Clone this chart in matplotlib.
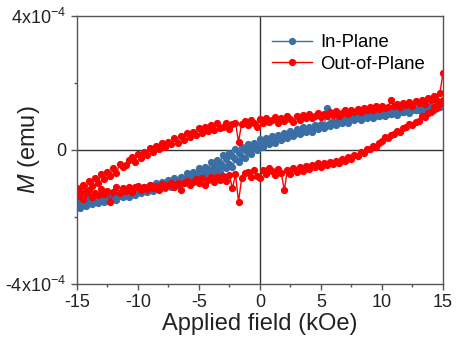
import numpy as np
import matplotlib
matplotlib.use("Agg")
import matplotlib.pyplot as plt
from matplotlib.ticker import MultipleLocator, FixedLocator

plt.rcParams['font.family'] = 'Liberation Sans'
plt.rcParams['mathtext.fontset'] = 'custom'
plt.rcParams['mathtext.rm'] = 'Liberation Sans'
plt.rcParams['mathtext.it'] = 'Liberation Sans:italic'
plt.rcParams['axes.unicode_minus'] = False

# field sweep in kOe, 0.25 kOe steps
field = np.arange(-15, 15.001, 0.25)

# magnetization in units of 1e-4 emu, listed in order of increasing field
# in-plane, branch measured on the way down (15 -> -15)
inplane_down = [
    -1.5, -1.62, -1.45, -1.55,
    -1.42, -1.52, -1.4, -1.48,
    -1.38, -1.48, -1.35, -1.42,
    -1.3, -1.4, -1.28, -1.35,
    -1.25, -1.32, -1.18, -1.28,
    -1.15, -1.25, -1.1, -1.2,
    -1.05, -1.15, -1.0, -1.1,
    -0.95, -1.05, -0.9, -0.98,
    -0.85, -0.95, -0.8, -0.88,
    -0.7, -0.82, -0.65, -0.72,
    -0.55, -0.68, -0.5, -0.58,
    -0.35, -0.48, -0.3, -0.38,
    -0.15, -0.28, -0.1, -0.18,
    0.02, -0.08, 0.08, 0.0,
    0.18, 0.08, 0.22, 0.15,
    0.32, 0.22, 0.35, 0.28,
    0.42, 0.32, 0.45, 0.38,
    0.52, 0.42, 0.58, 0.48,
    0.62, 0.52, 0.68, 0.58,
    0.7, 0.6, 0.75, 0.65,
    0.78, 0.7, 1.25, 0.82,
    0.88, 0.78, 0.92, 0.85,
    0.95, 0.88, 1.0, 0.92,
    1.02, 0.95, 1.05, 0.98,
    1.08, 1.0, 1.1, 1.02,
    1.12, 1.05, 1.15, 1.08,
    1.18, 1.1, 1.2, 1.12,
    1.22, 1.15, 1.25, 1.18,
    1.28, 1.2, 1.3, 1.22,
    1.32, 1.25, 1.45, 1.3,
    1.4,
]
# in-plane, branch measured on the way up (-15 -> 15)
inplane_up = [
    -1.65, -1.72, -1.58, -1.68,
    -1.55, -1.62, -1.5, -1.58,
    -1.48, -1.55, -1.45, -1.5,
    -1.4, -1.48, -1.38, -1.42,
    -1.32, -1.4, -1.3, -1.35,
    -1.22, -1.3, -1.2, -1.25,
    -1.15, -1.22, -1.12, -1.18,
    -1.08, -1.15, -1.05, -1.1,
    -0.98, -1.05, -0.95, -1.0,
    -0.88, -0.95, -0.85, -0.9,
    -0.78, -0.85, -0.72, -0.8,
    -0.62, -0.7, -0.58, -0.65,
    -0.48, -0.55, -0.42, -0.5,
    -0.28, -0.35, -0.2, -0.25,
    -0.05, -0.12, 0.05, 0.0,
    0.15, 0.08, 0.2, 0.18,
    0.28, 0.22, 0.35, 0.3,
    0.4, 0.35, 0.45, 0.42,
    0.52, 0.48, 0.58, 0.55,
    0.6, 0.55, 0.65, 0.62,
    0.7, 0.65, 0.75, 0.72,
    0.8, 0.75, 0.85, 0.82,
    0.88, 0.82, 0.92, 0.9,
    0.95, 0.9, 1.0, 0.96,
    1.0, 0.95, 1.05, 1.02,
    1.05, 1.0, 1.1, 1.08,
    1.1, 1.05, 1.15, 1.12,
    1.15, 1.1, 1.2, 1.18,
    1.2, 1.15, 1.25, 1.22,
    1.25, 1.2, 1.3, 1.28,
    1.35,
]
# out-of-plane, way down
outplane_down = [
    -1.15, -1.28, -1.05, -1.22,
    -0.92, -1.08, -0.85, -0.98,
    -0.72, -0.88, -0.66, -0.78,
    -0.55, -0.68, -0.42, -0.52,
    -0.45, -0.3, -0.22, -0.35,
    -0.12, -0.25, -0.05, -0.15,
    0.05, -0.06, 0.12, 0.02,
    0.2, 0.08, 0.25, 0.18,
    0.35, 0.22, 0.42, 0.3,
    0.5, 0.38, 0.55, 0.46,
    0.65, 0.52, 0.7, 0.58,
    0.75, 0.6, 0.8, 0.66,
    0.68, 0.82, 0.62, 0.78,
    0.8, 0.25, 0.78, 0.88,
    0.75, 0.9, 0.82, 0.7,
    0.92, 0.8, 0.95, 0.84,
    0.9, 0.98, 0.82, 0.95,
    0.88, 1.02, 0.92, 0.85,
    1.0, 0.9, 1.05, 0.96,
    1.08, 0.95, 1.02, 1.1,
    0.98, 1.08, 1.0, 1.12,
    1.05, 1.15, 1.02, 1.1,
    1.18, 1.08, 1.2, 1.12,
    1.22, 1.12, 1.25, 1.18,
    1.28, 1.2, 1.3, 1.22,
    1.32, 1.25, 1.28, 1.5,
    1.3, 1.38, 1.28, 1.4,
    1.35, 1.42, 1.32, 1.45,
    1.4, 1.5, 1.38, 1.55,
    1.48, 1.62, 1.45, 1.7,
    2.3,
]
# out-of-plane, way up
outplane_up = [
    -1.38, -1.22, -1.45, -1.3,
    -1.2, -1.4, -1.28, -1.35,
    -1.18, -1.32, -1.22, -1.55,
    -1.25, -1.12, -1.28, -1.15,
    -1.22, -1.1, -1.25, -1.12,
    -1.08, -1.2, -1.12, -1.18,
    -1.05, -1.15, -1.08, -1.2,
    -1.02, -1.12, -1.05, -0.98,
    -1.1, -0.98, -1.2, -1.0,
    -0.92, -1.05, -0.95, -0.88,
    -0.98, -0.85, -1.05, -0.9,
    -0.82, -0.95, -0.8, -0.9,
    -0.78, -0.92, -0.75, -1.15,
    -0.72, -1.55, -0.85, -0.7,
    -0.65, -0.82, -0.6, -0.78,
    -0.85, -0.6, -0.72, -0.55,
    -0.62, -0.75, -0.58, -0.7,
    -1.2, -0.6, -0.72, -0.55,
    -0.65, -0.52, -0.62, -0.48,
    -0.58, -0.45, -0.52, -0.4,
    -0.5, -0.38, -0.45, -0.35,
    -0.42, -0.32, -0.38, -0.28,
    -0.32, -0.22, -0.28, -0.15,
    -0.18, -0.05, -0.1, 0.02,
    0.02, 0.12, 0.08, 0.2,
    0.28, 0.38, 0.35, 0.45,
    0.48, 0.58, 0.55, 0.65,
    0.68, 0.78, 0.75, 0.85,
    0.88, 1.0, 0.98, 1.1,
    1.12, 1.28, 1.25, 1.4,
    1.5,
]

labels = ['In-Plane', 'Out-of-Plane']
colors = ['#3a6ea5', '#ff0000']

fig = plt.figure(figsize=(4.6, 3.42), dpi=100)
ax = fig.add_axes([0.167, 0.170, 0.796, 0.783])

# full loop: sweep down then back up
loop_x = np.concatenate([field[::-1], field])
for down, up, lab, col in zip([inplane_down, outplane_down], [inplane_up, outplane_up], labels, colors):
    loop_y = np.concatenate([np.array(down)[::-1], np.array(up)]) * 1e-4
    ax.plot(loop_x, loop_y, '-o', color=col, lw=1, ms=4.2, mec=col, mfc=col, label=lab)

ax.axhline(0, color='#333333', lw=1, zorder=0)
ax.axvline(0, color='#333333', lw=1, zorder=0)

ax.set_xlim(-15, 15)
ax.set_ylim(-4e-4, 4e-4)
ax.xaxis.set_major_locator(MultipleLocator(5))
ax.xaxis.set_minor_locator(MultipleLocator(2.5))
ax.yaxis.set_major_locator(FixedLocator([-4e-4, 0, 4e-4]))
ax.yaxis.set_minor_locator(FixedLocator([-2e-4, 2e-4]))
ax.set_yticklabels(['-4x10$^{-4}$', '0', '4x10$^{-4}$'])
ax.tick_params(which='major', direction='out', length=4, width=1, color='#555555', labelsize=13, labelcolor='#222222')
ax.tick_params(which='minor', direction='out', length=2.5, width=1, color='#555555')
for sp in ax.spines.values():
    sp.set_color('#555555')
    sp.set_linewidth(1)

ax.set_xlabel('Applied field (kOe)', fontsize=17, color='#222222', labelpad=1)
ax.set_ylabel('$M$ (emu)', fontsize=17, color='#222222')
ax.yaxis.set_label_coords(-0.096, 0.5)

ax.legend(loc='upper right', bbox_to_anchor=(0.995, 0.995), frameon=False, fontsize=13.3,
          handlelength=2.2, handletextpad=0.4, labelspacing=0.25)

fig.savefig('out.png', dpi=100)
